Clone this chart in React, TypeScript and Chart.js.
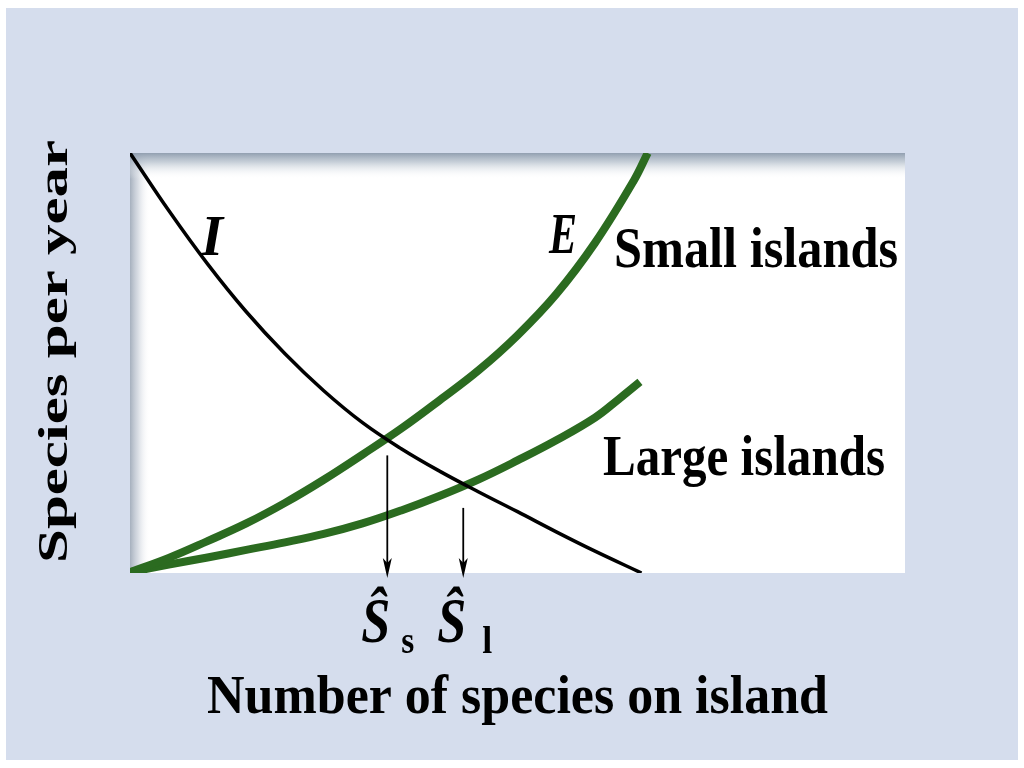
import { useEffect, useRef } from "react";
import { Chart, registerables } from "chart.js";

Chart.register(...registerables);

// Immigration curve (I)
const immigrationX = [0, 5, 10, 15, 20, 25, 30, 35, 40, 45, 50, 55, 60, 66];
const immigrationY = [100, 86.3, 73.6, 62.2, 52.2, 43.4, 35.8, 29.6, 24.2, 19.3, 14.6, 9.8, 5.2, 0];
// Extinction curve, small islands (E)
const smallExtX = [0, 5, 10, 15, 20, 25, 30, 35, 40, 45, 50, 55, 60, 65, 66.8];
const smallExtY = [0.2, 3.6, 7.6, 11.8, 16.7, 22.2, 28.2, 34.4, 41.2, 48.3, 56.6, 66.4, 78.6, 93.4, 100];
// Extinction curve, large islands
const largeExtX = [0, 5, 10, 15, 20, 25, 30, 35, 40, 45, 50, 55, 60, 63, 65.8];
const largeExtY = [0.2, 2.0, 3.7, 5.5, 7.3, 9.3, 11.8, 14.9, 18.4, 22.3, 26.8, 31.6, 37.0, 41.3, 45.5];
// Equilibrium arrows
const equilibriumX = [33.2, 43.0];
const arrowTopY = [28, 15.5];
const arrowBottomY = -1.2;
const equilibriumLabels = ["s", "l"];

const GREEN = "#2b6b20";
const SERIF = '"Liberation Serif", "DejaVu Serif", serif';

function pts(xs: number[], ys: number[]) {
  return xs.map((x, i) => ({ x, y: ys[i] }));
}

function fitText(
  ctx: CanvasRenderingContext2D,
  text: string,
  font: string,
  x: number,
  baseline: number,
  width: number
) {
  ctx.save();
  ctx.font = font;
  const w = ctx.measureText(text).width;
  ctx.translate(x, baseline);
  ctx.scale(width / w, 1);
  ctx.textAlign = "left";
  ctx.textBaseline = "alphabetic";
  ctx.fillText(text, 0, 0);
  ctx.restore();
}

const decorPlugin = {
  id: "decor",
  beforeDraw(chart: any) {
    const ctx: CanvasRenderingContext2D = chart.ctx;
    const { left, top, right, bottom } = chart.chartArea;
    ctx.save();
    ctx.fillStyle = "#ffffff";
    ctx.fillRect(0, 0, chart.width, chart.height);
    ctx.fillStyle = "#d5dded";
    ctx.fillRect(6, 8, 1012, 752);
    ctx.fillStyle = "#ffffff";
    ctx.fillRect(left, top, right - left, bottom - top);
    // left shading
    const gl = ctx.createLinearGradient(left, 0, left + 20, 0);
    gl.addColorStop(0, "rgba(150,162,178,0.85)");
    gl.addColorStop(0.4, "rgba(190,198,210,0.6)");
    gl.addColorStop(1, "rgba(255,255,255,0)");
    ctx.fillStyle = gl;
    ctx.fillRect(left, top, 20, bottom - top);
    // top shading
    const gt = ctx.createLinearGradient(0, top, 0, top + 26);
    gt.addColorStop(0, "rgba(140,154,172,0.95)");
    gt.addColorStop(0.35, "rgba(175,187,200,0.7)");
    gt.addColorStop(1, "rgba(255,255,255,0)");
    ctx.fillStyle = gt;
    ctx.fillRect(left, top, right - left, 26);
    ctx.restore();
  },
  afterDatasetsDraw(chart: any) {
    const ctx: CanvasRenderingContext2D = chart.ctx;
    const xs = chart.scales.x;
    const ys = chart.scales.y;
    ctx.save();
    ctx.fillStyle = "#000";
    ctx.strokeStyle = "#000";
    // arrows
    equilibriumX.forEach((ex, i) => {
      const px = xs.getPixelForValue(ex);
      const y0 = ys.getPixelForValue(arrowTopY[i]);
      const y1 = ys.getPixelForValue(arrowBottomY);
      ctx.lineWidth = 1.8;
      ctx.beginPath();
      ctx.moveTo(px, y0);
      ctx.lineTo(px, y1 - 12);
      ctx.stroke();
      ctx.beginPath();
      ctx.moveTo(px, y1);
      ctx.lineTo(px - 4.5, y1 - 20);
      ctx.lineTo(px, y1 - 15);
      ctx.lineTo(px + 4.5, y1 - 20);
      ctx.closePath();
      ctx.fill();
      // labels S-hat with subscript
      fitText(ctx, "\u015C", `italic bold 64px ${SERIF}`, px - 26, 642, 29);
      fitText(
        ctx,
        equilibriumLabels[i],
        `bold 38px ${SERIF}`,
        px + (i === 0 ? 14 : 19),
        653,
        i === 0 ? 13 : 10
      );
    });
    // curve labels
    fitText(ctx, "I", `italic bold 57px ${SERIF}`, 201, 255, 22);
    fitText(ctx, "E", `italic bold 56px ${SERIF}`, 549, 253, 28);
    fitText(ctx, "Small islands", `bold 58px ${SERIF}`, 614, 267, 284);
    fitText(ctx, "Large islands", `bold 57px ${SERIF}`, 603, 475, 282);
    // axis titles
    fitText(ctx, "Number of species on island", `bold 54px ${SERIF}`, 207, 713, 621);
    ctx.save();
    ctx.translate(67, 563);
    ctx.rotate(-Math.PI / 2);
    fitText(ctx, "Species per year", `bold 42px ${SERIF}`, 0, 0, 423);
    ctx.restore();
    ctx.restore();
  },
};

export default function App() {
  const ref = useRef<HTMLCanvasElement | null>(null);
  useEffect(() => {
    document.body.style.margin = "0";
    if (!ref.current) return;
    const chart = new Chart(ref.current, {
      type: "line",
      data: {
        datasets: [
          {
            label: "I",
            data: pts(immigrationX, immigrationY),
            borderColor: "#000",
            borderWidth: 3.5,
            pointRadius: 0,
            tension: 0.4,
          },
          {
            label: "Small islands",
            data: pts(smallExtX, smallExtY),
            borderColor: GREEN,
            borderWidth: 8,
            pointRadius: 0,
            tension: 0.4,
          },
          {
            label: "Large islands",
            data: pts(largeExtX, largeExtY),
            borderColor: GREEN,
            borderWidth: 8,
            pointRadius: 0,
            tension: 0.4,
          },
        ],
      },
      options: {
        animation: false,
        responsive: false,
        layout: { padding: { left: 130, top: 153, right: 119, bottom: 195 } },
        scales: {
          x: { type: "linear", min: 0, max: 100, display: false },
          y: { type: "linear", min: 0, max: 100, display: false },
        },
        plugins: {
          legend: { display: false },
          tooltip: { enabled: false },
        },
        events: [],
      } as any,
      plugins: [decorPlugin],
    });
    return () => chart.destroy();
  }, []);
  return (
    <div style={{ position: "absolute", left: 0, top: 0, width: 1024, height: 768 }}>
      <canvas ref={ref} width={1024} height={768} style={{ width: 1024, height: 768, display: "block" }} />
    </div>
  );
}
